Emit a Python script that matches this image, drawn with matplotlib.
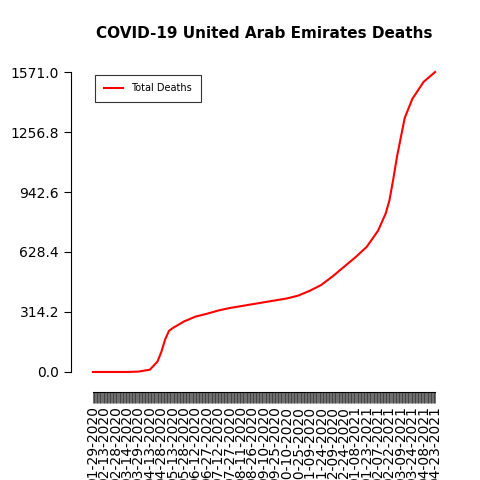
import matplotlib
matplotlib.use("Agg")
import matplotlib.pyplot as plt
import datetime as dt

# cumulative deaths (day offsets from 01-29-2020)
day_idx = [0, 15, 30, 45, 60, 75, 85, 90, 95, 100, 105, 120, 135, 150, 165, 180, 195,
           210, 225, 240, 255, 270, 285, 300, 315, 330, 345, 360, 375, 385, 390,
           395, 400, 405, 410, 420, 435, 450]
deaths = [0, 0, 0, 0, 2, 12, 55, 105, 170, 215, 230, 265, 290, 305, 322, 335, 345,
          355, 365, 375, 385, 400, 425, 455, 500, 550, 600, 655, 740, 830, 900,
          1010, 1130, 1230, 1330, 1430, 1520, 1571]
start = dt.date(2020, 1, 29)
n_days = 451
labels = [(start + dt.timedelta(days=d)).strftime("%m-%d-%Y") for d in range(n_days)]
yticks = [0.0, 314.2, 628.4, 942.6, 1256.8, 1571.0]

fig = plt.figure(figsize=(4.8, 4.8), dpi=100)
ax = fig.add_axes([0.165, 0.2, 0.77, 0.675])
ax.plot(day_idx, deaths, color="red", lw=1.5, label="Total Deaths")

ax.set_xlim(-18, 468)
ax.set_ylim(-63, 1634)
ax.set_yticks(yticks)
ax.set_yticklabels([f"{v:.1f}" for v in yticks], fontsize=9)
ax.set_xticks(range(n_days))
ax.set_xticklabels([l if i % 15 == 0 else "" for i, l in enumerate(labels)], fontsize=9)
ax.tick_params(axis="x", length=8, width=0.5, color="#333333", pad=2, labelrotation=90)
ax.tick_params(axis="y", length=5)

for s in ["top", "right"]:
    ax.spines[s].set_visible(False)
ax.spines["left"].set_bounds(0, 1571)
ax.spines["left"].set_position(("outward", 6))
ax.spines["bottom"].set_bounds(0, 450)
ax.spines["bottom"].set_position(("outward", 6))

ax.set_title("COVID-19 United Arab Emirates Deaths", fontsize=11, fontweight="bold", pad=16)
leg = ax.legend(loc="upper left", fontsize=7, fancybox=False, edgecolor="black",
                borderpad=0.9, bbox_to_anchor=(0.03, 0.97))
leg.get_frame().set_linewidth(0.8)

fig.savefig("out.png", dpi=100)
